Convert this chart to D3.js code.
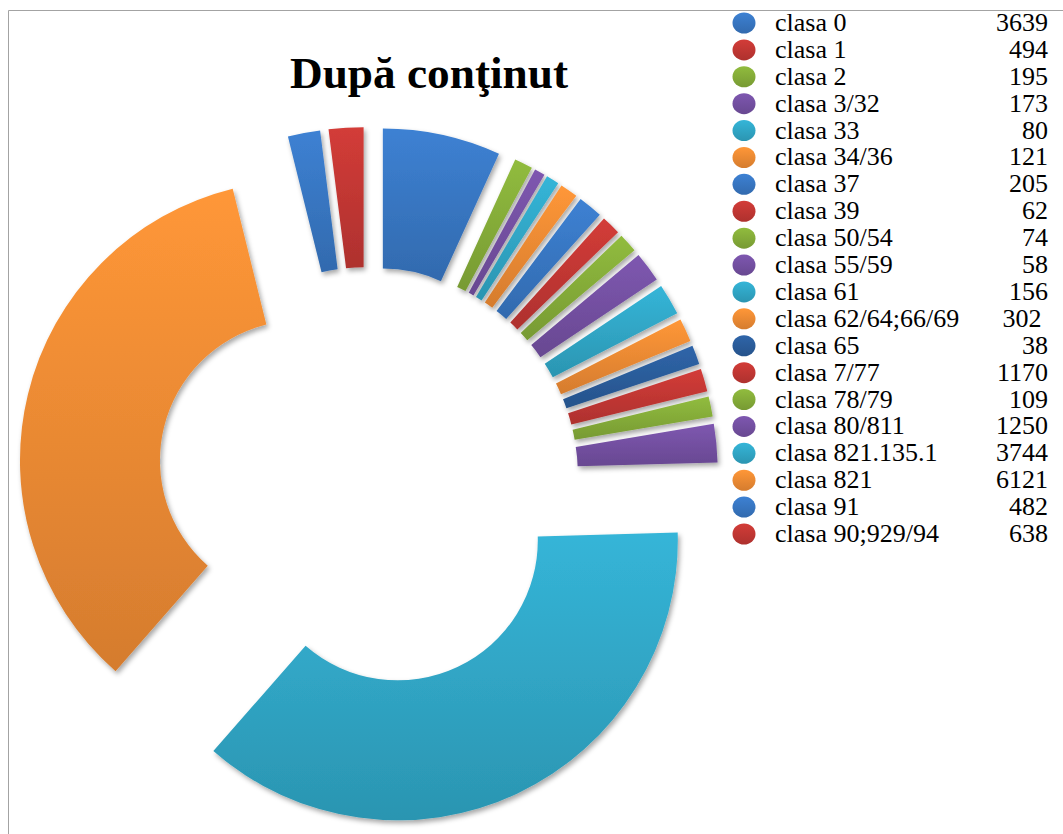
<!DOCTYPE html>
<html>
<head>
<meta charset="utf-8">
<script src="https://cdn.jsdelivr.net/npm/d3@7/dist/d3.min.js"></script>
<style>
  body { margin: 0; background: #fff; }
</style>
</head>
<body>
<div id="chart"></div>
<script>
//Legend categories
var categories = ["clasa 0", "clasa 1", "clasa 2", "clasa 3/32", "clasa 33", "clasa 34/36",
    "clasa 37", "clasa 39", "clasa 50/54", "clasa 55/59", "clasa 61", "clasa 62/64;66/69",
    "clasa 65", "clasa 7/77", "clasa 78/79", "clasa 80/811", "clasa 821.135.1", "clasa 821",
    "clasa 91", "clasa 90;929/94"];

//Numbers printed in the legend
var legendValues = ["3639", "494", "195", "173", "80", "121", "205", "62", "74", "58", "156",
    "302\u00a0", "38", "1170", "109", "1250", "3744", "6121", "482", "638"];

//Slice sizes (share of the ring, in degrees)
var sliceValues = [24.5, 0, 3.8, 2.2, 2.7, 3.7, 5.1, 4.0, 4.0, 6.25, 6.5, 4.85,
    3.95, 4.75, 4.15, 7.95, 132.8, 124.9, 6.7, 7.2];

//Colours (Office theme style)
var palette = ["#3b7ccc", "#cc3a36", "#8cb53c", "#7a54aa", "#33afd0", "#fa9236",
    "#3b7ccc", "#cc3a36", "#8cb53c", "#7a54aa", "#33afd0", "#fa9236",
    "#2d61a3", "#cc3a36", "#8cb53c", "#7a54aa", "#33afd0", "#fa9236",
    "#3b7ccc", "#cc3a36"];

//Define SVG area
var svgWidth = 1063;
var svgHeight = 834;

//Doughnut geometry
var centerX = 368;
var centerY = 477;
var outerRadius = 280;
var innerRadius = 140;
var explode = 70;

var svg = d3.select("#chart")
    .append("svg")
    .attr("width", svgWidth)
    .attr("height", svgHeight);

var defs = svg.append("defs");

//Soft drop shadow under slices
var shadow = defs.append("filter")
    .attr("id", "shadow")
    .attr("x", "-30%").attr("y", "-30%")
    .attr("width", "160%").attr("height", "160%");
shadow.append("feDropShadow")
    .attr("dx", 2)
    .attr("dy", 3)
    .attr("stdDeviation", 2.5)
    .attr("flood-color", "#000")
    .attr("flood-opacity", 0.35);

//One vertical gradient per point
palette.forEach(function(color, i) {
    var grad = defs.append("linearGradient")
        .attr("id", "grad" + i)
        .attr("x1", 0).attr("y1", 0)
        .attr("x2", 0).attr("y2", 1);
    grad.append("stop").attr("offset", "0%").attr("stop-color", d3.color(color).brighter(0.1));
    grad.append("stop").attr("offset", "100%").attr("stop-color", d3.color(color).darker(0.45));
});

//Chart area border (only top and left are inside the picture)
svg.append("path")
    .attr("d", `M8.5,${svgHeight} V10.5 H${svgWidth}`)
    .attr("fill", "none")
    .attr("stroke", "#a3a3a3")
    .attr("stroke-width", 1);

//Title
svg.append("text")
    .attr("x", 429)
    .attr("y", 88)
    .attr("text-anchor", "middle")
    .attr("font-family", "'Liberation Serif', 'DejaVu Serif', serif")
    .attr("font-weight", "bold")
    .attr("font-size", "44px")
    .attr("textLength", 278)
    .attr("lengthAdjust", "spacingAndGlyphs")
    .attr("fill", "#000")
    .text("După conţinut");

//Build doughnut
var slices = categories.map(function(name, i) {
    return { name: name, value: sliceValues[i], index: i };
});

var pie = d3.pie()
    .sort(null)
    .value(d => d.value);

var arc = d3.arc()
    .innerRadius(innerRadius)
    .outerRadius(outerRadius);

var chartGroup = svg.append("g")
    .attr("transform", `translate(${centerX}, ${centerY})`);

chartGroup.selectAll("path")
    .data(pie(slices).filter(d => d.data.value > 0))
    .enter()
    .append("path")
    .attr("d", arc)
    .attr("transform", function(d) {
        var mid = (d.startAngle + d.endAngle) / 2;
        return `translate(${explode * Math.sin(mid)}, ${-explode * Math.cos(mid)})`;
    })
    .attr("fill", d => `url(#grad${d.data.index})`)
    .attr("filter", "url(#shadow)");

//Legend
var legendY = d3.scalePoint()
    .domain(categories)
    .range([22, 533]);

var legendRows = svg.append("g")
    .selectAll("g")
    .data(categories)
    .enter()
    .append("g")
    .attr("transform", d => `translate(0, ${legendY(d)})`);

legendRows.append("ellipse")
    .attr("cx", 744)
    .attr("cy", 1)
    .attr("rx", 11.5)
    .attr("ry", 10.5)
    .attr("fill", (d, i) => `url(#grad${i})`);

legendRows.append("text")
    .attr("x", 775)
    .attr("y", 9)
    .attr("font-family", "'Liberation Serif', 'Times New Roman', serif")
    .attr("font-size", "26px")
    .attr("fill", "#000")
    .text(d => d);

legendRows.append("text")
    .attr("x", 1048)
    .attr("y", 9)
    .attr("text-anchor", "end")
    .attr("font-family", "'Liberation Serif', 'Times New Roman', serif")
    .attr("font-size", "26px")
    .attr("fill", "#000")
    .text((d, i) => legendValues[i]);
</script>
</body>
</html>
